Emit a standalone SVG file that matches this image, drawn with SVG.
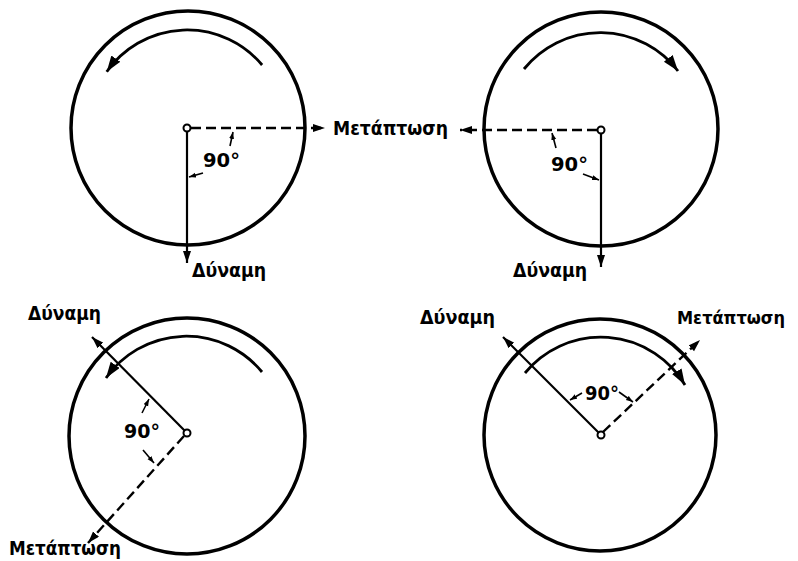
<svg xmlns="http://www.w3.org/2000/svg" width="798" height="561" viewBox="0 0 798 561">
<style>
.disk{fill:none;stroke:#000;stroke-width:3.5}
.rot{fill:none;stroke:#000;stroke-width:2.8}
.hub{fill:#fff;stroke:#000;stroke-width:2}
.force{fill:none;stroke:#000;stroke-width:2.2}
.prec{fill:none;stroke:#000;stroke-width:2.4;stroke-dasharray:10 5}
.ang{fill:none;stroke:#000;stroke-width:1.6}
.lbl{font-family:"DejaVu Sans","Liberation Sans",sans-serif;font-size:19px;font-weight:bold;fill:#000}
.deg{font-family:"DejaVu Sans","Liberation Sans",sans-serif;font-size:20px;font-weight:bold;fill:#000}
</style>
<defs>
<marker id="ah" markerUnits="userSpaceOnUse" markerWidth="13" markerHeight="9" refX="12" refY="4" orient="auto"><path d="M0,0 L12,4 L0,8 z" fill="#000"/></marker>
<marker id="rh" markerUnits="userSpaceOnUse" markerWidth="17" markerHeight="12" refX="16" refY="5.5" orient="auto"><path d="M0,0 L16,5.5 L0,11 z" fill="#000"/></marker>
<marker id="sh" markerUnits="userSpaceOnUse" markerWidth="8" markerHeight="6" refX="7" refY="2.5" orient="auto"><path d="M0,0 L7,2.5 L0,5 z" fill="#000"/></marker>
</defs>
<rect width="798" height="561" fill="#fff"/>

<g id="disk-top-left">
<circle class="disk" cx="188" cy="128" r="117"/>
<path class="rot" d="M262.1,65 A98,98 0 0 0 106.7,71.8" marker-end="url(#rh)"/>
<line class="ang" x1="230" y1="146" x2="233" y2="132" marker-end="url(#sh)"/>
<line class="ang" x1="203" y1="173" x2="189" y2="177" marker-end="url(#sh)"/>
<text class="deg" x="203" y="167" textLength="37" lengthAdjust="spacingAndGlyphs">90°</text>
<text class="lbl" x="192" y="277" textLength="74" lengthAdjust="spacingAndGlyphs">Δύναμη</text>
</g>

<g id="disk-top-right">
<circle class="disk" cx="601" cy="129" r="117"/>
<path class="rot" d="M524,69 A98,98 0 0 1 678,71" marker-end="url(#rh)"/>
<line class="ang" x1="556" y1="148" x2="552" y2="133" marker-end="url(#sh)"/>
<line class="ang" x1="583" y1="174" x2="599" y2="180" marker-end="url(#sh)"/>
<text class="deg" x="551" y="171" textLength="37" lengthAdjust="spacingAndGlyphs">90°</text>
<text class="lbl" x="513" y="277" textLength="74" lengthAdjust="spacingAndGlyphs">Δύναμη</text>
</g>

<g id="precession-label">
<text class="lbl" x="333" y="135" textLength="115" lengthAdjust="spacingAndGlyphs">Μετάπτωση</text>
</g>

<g id="disk-bottom-left">
<circle class="disk" cx="187" cy="436" r="118"/>
<path class="rot" d="M262,372 A98,98 0 0 0 106,378" marker-end="url(#rh)"/>
<line class="ang" x1="142" y1="413" x2="149" y2="399" marker-end="url(#sh)"/>
<line class="ang" x1="143" y1="450" x2="154" y2="463" marker-end="url(#sh)"/>
<text class="deg" x="124" y="438" textLength="36" lengthAdjust="spacingAndGlyphs">90°</text>
<text class="lbl" x="28" y="320" textLength="73" lengthAdjust="spacingAndGlyphs">Δύναμη</text>
<text class="lbl" x="9" y="555" textLength="112" lengthAdjust="spacingAndGlyphs">Μετάπτωση</text>
</g>

<g id="disk-bottom-right">
<circle class="disk" cx="600" cy="435" r="116"/>
<path class="rot" d="M525,373 A98,98 0 0 1 685,385" marker-end="url(#rh)"/>
<line class="ang" x1="582" y1="393" x2="570" y2="400" marker-end="url(#sh)"/>
<line class="ang" x1="619" y1="392" x2="633" y2="402" marker-end="url(#sh)"/>
<text class="deg" x="585" y="400" textLength="34" lengthAdjust="spacingAndGlyphs">90°</text>
<text class="lbl" x="420" y="324" textLength="75" lengthAdjust="spacingAndGlyphs">Δύναμη</text>
<text class="lbl" x="677" y="324" style="font-size:17px" textLength="108" lengthAdjust="spacingAndGlyphs">Μετάπτωση</text>
</g>

<g id="connectors">
<line class="force" x1="187" y1="131" x2="187" y2="263" marker-end="url(#ah)"/>
<line class="prec" x1="191" y1="128" x2="325" y2="128" marker-end="url(#ah)"/>
<line class="force" x1="601" y1="134" x2="601" y2="267" marker-end="url(#ah)"/>
<line class="prec" x1="597" y1="130" x2="460" y2="130" marker-end="url(#ah)"/>
<line class="force" x1="185" y1="431" x2="92" y2="337" marker-end="url(#ah)"/>
<line class="prec" x1="184" y1="436" x2="88" y2="543" marker-end="url(#ah)"/>
<line class="force" x1="599" y1="433" x2="503" y2="337" marker-end="url(#ah)"/>
<line class="prec" x1="603" y1="432" x2="700" y2="340" marker-end="url(#ah)"/>
</g>

<g id="hubs">
<circle class="hub" cx="187" cy="128" r="3.5"/>
<circle class="hub" cx="601" cy="130" r="3.5"/>
<circle class="hub" cx="187" cy="433" r="3.5"/>
<circle class="hub" cx="601" cy="435" r="3.5"/>
</g>
</svg>
